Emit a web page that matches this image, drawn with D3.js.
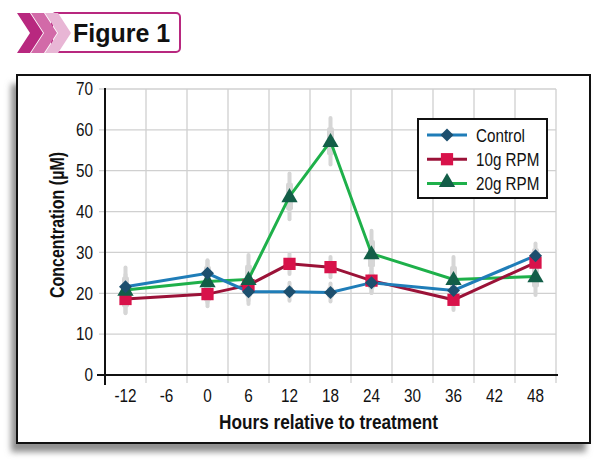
<!DOCTYPE html>
<html><head><meta charset="utf-8">
<script src="https://cdn.jsdelivr.net/npm/d3@7"></script>
<style>
html,body{margin:0;padding:0;background:#fff;}
svg{display:block;}
</style></head>
<body>
<svg id="chart" width="610" height="463"></svg>
<script>
const hours = ["-12","-6","0","6","12","18","24","30","36","42","48"];
const sampleHours = ["-12","0","6","12","18","24","36","48"];
const controlValues = [21.6, 24.9, 20.4, 20.4, 20.2, 22.6, 20.7, 29.2];
const rpm10Values   = [18.6, 19.8, 22.0, 27.2, 26.4, 23.1, 18.4, 27.5];
const rpm20Values   = [20.8, 22.9, 23.4, 43.7, 57.2, 29.7, 23.4, 24.1];
const controlErr = [3, 3, 2.2, 2.2, 2.2, 2.5, 3, 3];
const rpm10Err   = [3.5, 3, 2.5, 2.5, 2.5, 3, 2.5, 2.5];
const rpm20Err   = [5.5, 5.2, 6, 5.6, 5.7, 5.6, 5.5, 4.5];
const yTicks = [0,10,20,30,40,50,60,70];
const seriesNames = ["Control","10g RPM","20g RPM"];

const svg = d3.select("#chart");
const defs = svg.append("defs");
const f = defs.append("filter").attr("id","shadow").attr("x","-10%").attr("y","-10%").attr("width","120%").attr("height","125%");
f.append("feGaussianBlur").attr("stdDeviation",3);

function condense(sel, k) {
  sel.each(function() {
    const w = this.getComputedTextLength();
    d3.select(this).attr("textLength", w*k).attr("lengthAdjust","spacingAndGlyphs");
  });
}

// panel shadow + frame
svg.append("rect").attr("x",11).attr("y",84).attr("width",575).attr("height",368)
  .attr("fill","#8f8f8f").attr("filter","url(#shadow)");
svg.append("rect").attr("x",17).attr("y",75).attr("width",573).attr("height",368)
  .attr("fill","#fff").attr("stroke","#111").attr("stroke-width",2);

// Figure header
const hdr = svg.append("g");
hdr.append("rect").attr("x",52).attr("y",13).attr("width",128).attr("height",39).attr("rx",4)
  .attr("fill","#fff").attr("stroke","#b8287f").attr("stroke-width",2);
const chev = x0 => `M${x0},13 L${x0+13},13 L${x0+26},33 L${x0+13},53 L${x0},53 L${x0+13},33 Z`;
[["#b8287f",17],["#d26aa8",31],["#e8b6d5",45]].forEach(([c,x]) => {
  hdr.append("path").attr("d",chev(x)).attr("fill",c);
});
hdr.append("text").attr("x",73).attr("y",42).attr("font-family","Liberation Sans, Arial, sans-serif")
  .attr("font-weight","bold").attr("font-size",25).attr("fill","#111").text("Figure 1");

// plot
const L = 105, R = 556, T = 89, B = 375;
const x = d3.scaleBand().domain(hours).range([L,R]);
const y = d3.scaleLinear().domain([0,70]).range([B,T]);
const font = "Liberation Sans, Arial, sans-serif";

const g = svg.append("g");
g.selectAll(".hg").data(yTicks.slice(1)).join("line")
  .attr("x1",L-6).attr("x2",R).attr("y1",d=>y(d)).attr("y2",d=>y(d))
  .attr("stroke","#d0d0d0").attr("stroke-width",1.3);
const bounds = hours.map(h => x(h)+x.bandwidth());
g.selectAll(".vg").data(bounds).join("line")
  .attr("x1",d=>d).attr("x2",d=>d).attr("y1",T).attr("y2",B+8)
  .attr("stroke","#d0d0d0").attr("stroke-width",1.3);

const yAxis = d3.axisLeft(y).tickValues(yTicks).tickSize(0).tickPadding(12);
const ya = g.append("g").attr("transform",`translate(${L},0)`).call(yAxis);
ya.select(".domain").remove();
ya.selectAll("text").attr("font-family",font).attr("font-size",18).attr("fill","#111").call(condense,0.85);
const xAxis = d3.axisBottom(x).tickSize(0).tickPadding(12);
const xa = g.append("g").attr("transform",`translate(0,${B})`).call(xAxis);
xa.select(".domain").remove();
xa.selectAll("text").attr("font-family",font).attr("font-size",18).attr("fill","#111").attr("dy","0.85em").call(condense,0.85);
g.append("line").attr("x1",L).attr("x2",R+2).attr("y1",B).attr("y2",B).attr("stroke","#111").attr("stroke-width",2);
g.append("line").attr("x1",L).attr("x2",L).attr("y1",T-1).attr("y2",B+10).attr("stroke","#111").attr("stroke-width",2);
g.append("line").attr("x1",L-8).attr("x2",L).attr("y1",B).attr("y2",B).attr("stroke","#111").attr("stroke-width",2);

g.append("text").attr("x",(L+R)/2-2).attr("y",429).attr("text-anchor","middle")
  .attr("font-family",font).attr("font-weight","bold").attr("font-size",20).attr("fill","#111")
  .text("Hours relative to treatment").call(condense,0.86);
g.append("text").attr("transform",`translate(64,${225}) rotate(-90)`).attr("text-anchor","middle")
  .attr("font-family",font).attr("font-weight","bold").attr("font-size",20).attr("fill","#111")
  .text("Concentration (µM)").call(condense,0.8);

const cx = h => x(h) + x.bandwidth()/2;
const series = [
  {name:"20g RPM", vals:rpm20Values, err:rpm20Err, line:"#1eb04a", mark:"#135e48", sym:d3.symbolTriangle, size:115, rot:0, dy:1},
  {name:"10g RPM", vals:rpm10Values, err:rpm10Err, line:"#9b1238", mark:"#d8124a", sym:d3.symbolSquare, size:150, rot:0, dy:0},
  {name:"Control", vals:controlValues, err:controlErr, line:"#1f7db8", mark:"#1d4f6e", sym:d3.symbolSquare, size:85, rot:45, dy:0},
];

const eb = g.append("g");
series.forEach(s => {
  s.vals.forEach((v,i) => {
    const h = sampleHours[i], e = s.err[i];
    eb.append("line").attr("x1",cx(h)).attr("x2",cx(h)).attr("y1",y(v+e)).attr("y2",y(v-e))
      .attr("stroke","#d6d6d6").attr("stroke-width",4).attr("stroke-linecap","round");
    eb.append("rect").attr("x",cx(h)-3.5).attr("width",7).attr("y",y(v+e*0.6)).attr("height",y(v-e*0.6)-y(v+e*0.6))
      .attr("fill","#d6d6d6").attr("rx",2);
  });
});

const line = d3.line().x((d,i)=>cx(sampleHours[i])).y(d=>y(d));
series.forEach(s => {
  g.append("path").attr("d",line(s.vals)).attr("fill","none").attr("stroke",s.line).attr("stroke-width",3);
});
["10g RPM","20g RPM","Control"].forEach(n => {
  const s = series.find(d=>d.name===n);
  g.selectAll(null).data(s.vals).join("path")
    .attr("transform",(d,i)=>`translate(${cx(sampleHours[i])},${y(d)+s.dy}) rotate(${s.rot})`)
    .attr("d",d3.symbol().type(s.sym).size(s.size)).attr("fill",s.mark);
});

const lg = svg.append("g");
lg.append("rect").attr("x",418).attr("y",119).attr("width",129).attr("height",79)
  .attr("fill","#fff").attr("stroke","#111").attr("stroke-width",2);
seriesNames.forEach((n,i) => {
  const s = series.find(d=>d.name===n);
  const yy = 135 + i*24.2;
  lg.append("line").attr("x1",427).attr("x2",467).attr("y1",yy).attr("y2",yy).attr("stroke",s.line).attr("stroke-width",3);
  lg.append("path").attr("transform",`translate(447,${yy-(s.dy?1:0)}) rotate(${s.rot})`)
    .attr("d",d3.symbol().type(s.sym).size(s.size)).attr("fill",s.mark);
  lg.append("text").attr("x",476).attr("y",yy+6.5).attr("font-family",font).attr("font-size",19).attr("fill","#111").text(n).call(condense,0.8);
});
</script>
</body></html>
